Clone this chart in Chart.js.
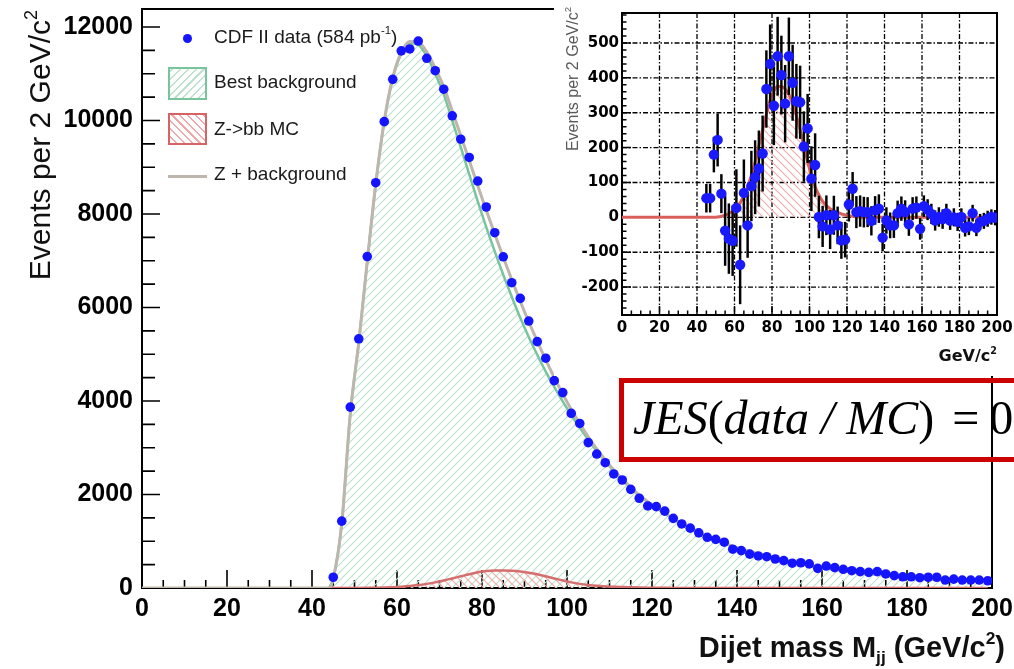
<!DOCTYPE html>
<html>
<head>
<meta charset="utf-8">
<script src="https://cdn.jsdelivr.net/npm/chart.js@4.4.1/dist/chart.umd.min.js"></script>
<style>
html,body{margin:0;padding:0;background:#fff;}
#wrap{position:relative;width:1014px;height:669px;overflow:hidden;font-family:'Liberation Sans',Arial,sans-serif;color:#111;}
canvas{position:absolute;display:block;}
#main{left:0;top:0;}
#inset{left:554px;top:0;background:#fff;}
.abs{position:absolute;white-space:nowrap;}
sup{font-size:60%;vertical-align:0.75em;line-height:0;}
sub{font-size:60%;vertical-align:-0.35em;line-height:0;}
.leg{font-size:19px;line-height:22px;color:#1a1a1a;left:214px;}
#jes{left:619px;top:378px;width:420px;height:84px;border:5px solid #cc0000;box-sizing:border-box;}
#jestext{left:633px;top:394px;font-family:'Liberation Serif','Times New Roman',serif;font-size:48px;line-height:48px;color:#000;}
#jestext .eq{margin-left:18px;margin-right:10px;}
</style>
</head>
<body>
<div id="wrap">
  <canvas id="main" width="1014" height="669"></canvas>
  <canvas id="inset" width="460" height="376"></canvas>

  <!-- main axis titles -->
  <div class="abs" style="left:23px;top:292px;width:282px;height:34px;line-height:34px;text-align:right;font-size:30px;transform-origin:0 0;transform:rotate(-90deg);">Events per 2 GeV/c<sup>2</sup></div>
  <div class="abs" style="right:9px;top:630px;line-height:34px;font-size:29px;font-weight:bold;">Dijet mass M<sub>jj</sub> (GeV/c<sup>2</sup>)</div>

  <!-- legend -->
  <div class="abs" style="left:183px;top:34px;width:9px;height:9px;border-radius:50%;background:#1414ff;"></div>
  <div class="abs leg" style="top:26px;">CDF II data (584 pb<sup>-1</sup>)</div>
  <div class="abs" style="left:168px;top:67px;width:39px;height:33px;box-sizing:border-box;border:2px solid rgb(120,196,156);background:repeating-linear-gradient(-45deg,#fff 0 4px,rgb(190,226,206) 4px 5.5px);"></div>
  <div class="abs leg" style="top:71px;">Best background</div>
  <div class="abs" style="left:168px;top:113px;width:39px;height:32px;box-sizing:border-box;border:2px solid rgb(214,100,100);background:repeating-linear-gradient(45deg,#fff 0 4px,rgb(238,170,170) 4px 5.5px);"></div>
  <div class="abs leg" style="top:118px;">Z-&gt;bb MC</div>
  <div class="abs" style="left:168px;top:175px;width:39px;height:2.5px;background:rgb(190,182,172);"></div>
  <div class="abs leg" style="top:163px;">Z + background</div>

  <!-- inset titles -->
  <div class="abs" style="left:564px;top:167px;width:160px;height:18px;line-height:18px;text-align:right;font-size:16px;color:#5a5a5a;transform-origin:0 0;transform:rotate(-90deg);">Events per 2 GeV/c<sup>2</sup></div>
  <div class="abs" style="left:920px;top:346px;width:77px;line-height:20px;text-align:right;font-family:'DejaVu Sans',sans-serif;font-weight:bold;font-size:16px;">GeV/c<sup>2</sup></div>

  <!-- JES box -->
  <div class="abs" id="jes"></div>
  <div class="abs" id="jestext"><i>JES</i>(<i>data</i> <i>/</i> <i>MC</i>)<span class="eq">=</span>0</div>
</div>

<script>
// ---------------- data ----------------
const massBins = [45,47,49,51,53,55,57,59,61,63,65,67,69,71,73,75,77,79,81,83,85,87,89,91,93,95,97,99,101,103,105,107,109,111,113,115,117,119,121,123,125,127,129,131,133,135,137,139,141,143,145,147,149,151,153,155,157,159,161,163,165,167,169,171,173,175,177,179,181,183,185,187,189,191,193,195,197,199];

const dataEvents = [230,1430,3870,5330,7090,8670,9975,10880,11490,11530,11700,11330,11065,10670,10100,9600,9210,8705,8150,7600,7085,6530,6195,5710,5270,4915,4435,4180,3735,3520,3110,2865,2680,2440,2310,2110,1920,1755,1740,1645,1490,1370,1280,1180,1085,1040,980,830,800,725,685,670,620,585,530,540,515,420,470,435,400,370,350,335,350,300,265,240,240,220,230,230,170,190,170,170,170,155];

const curveMass = [0,44,45,47,49,51,53,55,57,59,61,63,65,67,69,71,73,75,77,79,81,83,85,87,89,91,93,95,97,99,101,103,105,107,109,111,113,115,117,119,121,123,125,127,129,131,133,135,137,139,141,143,145,147,149,151,153,155,157,159,161,163,165,167,169,171,173,175,177,179,181,183,185,187,189,191,193,195,197,199];

const bgCurve = [0,0,200,1380,3720,5250,6980,8640,9980,10900,11430,11650,11620,11380,11000,10560,10000,9430,8850,8270,7720,7200,6700,6230,5780,5370,4990,4630,4300,3990,3700,3430,3170,2930,2710,2500,2310,2140,1980,1840,1710,1595,1480,1375,1280,1190,1105,1030,960,895,835,780,728,680,635,593,554,518,485,454,425,398,372,348,326,305,286,268,251,235,220,207,194,182,171,161,152,143,135,127];

const zCurve = [0,0,0,0,0,1,3,6,11,18,28,42,62,88,120,160,205,250,295,335,362,375,375,368,352,325,292,250,205,160,120,88,64,46,34,25,19,14,10,7,5,3,2,1,0,0,0,0,0,0,0,0,0,0,0,0,0,0,0,0,0,0,0,0,0,0,0,0,0,0,0,0,0,0,0,0,0,0,0,0];

const totalCurve = [0,0,200,1380,3720,5251,6983,8646,9991,10918,11458,11692,11682,11468,11120,10720,10205,9680,9145,8605,8082,7575,7075,6598,6132,5695,5282,4880,4505,4150,3820,3518,3234,2976,2744,2525,2329,2154,1990,1847,1715,1598,1482,1376,1280,1190,1105,1030,960,895,835,780,728,680,635,593,554,518,485,454,425,398,372,348,326,305,286,268,251,235,220,207,194,182,171,161,152,143,135,127];

const insetResidual = [55,55,180,222,68,-38,-61,-67,27,-136,70,-23,90,115,140,183,368,440,320,462,408,326,462,386,333,330,203,255,111,150,1,-26,6,-35,6,-23,-66,-64,37,82,15,18,15,15,-10,20,25,-58,-9,-23,-23,12,25,15,-20,25,28,-33,32,22,10,-9,1,-5,12,-9,0,-13,1,-30,-26,12,-30,-13,-10,-4,1,-1];

const insetError = [40,40,50,75,55,100,100,100,110,112,95,92,100,105,108,108,110,112,112,112,112,110,110,108,106,104,100,98,92,90,60,58,56,55,55,53,52,50,48,47,45,44,43,42,41,40,40,38,37,36,35,35,34,33,32,32,31,30,30,29,28,28,27,27,26,26,25,25,24,24,24,23,23,22,22,22,21,21];

const mainXTicks = [0,20,40,60,80,100,120,140,160,180,200];
const mainYTicks = [0,2000,4000,6000,8000,10000,12000];
const insetXTicks = [0,20,40,60,80,100,120,140,160,180,200];
const insetYTicks = [-200,-100,0,100,200,300,400,500];

// ---------------- helpers ----------------
function hatch(color, dir, size, lw) {
  const c = document.createElement('canvas');
  c.width = size; c.height = size;
  const g = c.getContext('2d');
  g.strokeStyle = color; g.lineWidth = lw;
  g.beginPath();
  if (dir === '/') {
    g.moveTo(0, size); g.lineTo(size, 0);
    g.moveTo(-size/2, size/2); g.lineTo(size/2, -size/2);
    g.moveTo(size/2, size*1.5); g.lineTo(size*1.5, size/2);
  } else {
    g.moveTo(0, 0); g.lineTo(size, size);
    g.moveTo(-size/2, size/2); g.lineTo(size/2, size*1.5);
    g.moveTo(size/2, -size/2); g.lineTo(size*1.5, size/2);
  }
  g.stroke();
  return g.createPattern(c, 'repeat');
}
const pts = (xs, ys) => xs.map((x, i) => ({x: x, y: ys[i]}));
const fixTicks = list => (scale => { scale.ticks = list.map(v => ({value: v})); });
function fixedX(h) { return s => { s.height = h; s.paddingLeft = 0; s.paddingRight = 0; }; }
function fixedY(w) { return s => { s.width = w; s.paddingTop = 0; s.paddingBottom = 0; }; }

const greenHatch = hatch('rgb(190,226,206)', '/', 8, 1.2);
const redHatch = hatch('rgb(240,170,170)', '\\', 8, 1.2);
const redHatchInset = hatch('rgb(240,175,175)', '\\', 8, 1.2);

// ---------------- main chart ----------------
const mainFrame = {
  id: 'mainFrame',
  beforeDatasetsDraw(chart) {
    const {ctx, chartArea: a, scales: {x, y}} = chart;
    ctx.save();
    ctx.strokeStyle = '#000';
    ctx.lineWidth = 1.6;
    ctx.beginPath();
    for (let v = 0; v <= 200; v += 5) {
      const px = x.getPixelForValue(v);
      const len = v % 20 === 0 ? 18 : 8;
      ctx.moveTo(px, a.bottom); ctx.lineTo(px, a.bottom - len);
    }
    for (let v = 0; v <= 12300; v += 500) {
      const py = y.getPixelForValue(v);
      const len = v % 2000 === 0 ? 18 : 13;
      ctx.moveTo(a.left, py); ctx.lineTo(a.left + len, py);
    }
    ctx.stroke();
    ctx.lineWidth = 2;
    ctx.strokeRect(a.left, a.top, a.right - a.left, a.bottom - a.top);
    ctx.restore();
  }
};

const tickFontMain = {family: "'Liberation Sans', Arial, sans-serif", size: 25, weight: 'bold'};

new Chart(document.getElementById('main'), {
  type: 'line',
  data: {
    datasets: [
      {
        label: 'CDF II data (584 pb-1)',
        data: pts(massBins, dataEvents),
        showLine: false,
        pointRadius: 4.8,
        pointBackgroundColor: '#1414ff',
        pointBorderWidth: 0
      },
      {
        label: 'Z + background',
        data: pts(curveMass, totalCurve),
        borderColor: 'rgb(190,182,172)',
        borderWidth: 3,
        pointRadius: 0,
        fill: false,
        cubicInterpolationMode: 'monotone'
      },
      {
        label: 'Z->bb MC',
        data: pts(curveMass.slice(1), zCurve.slice(1)),
        borderColor: 'rgb(214,110,110)',
        borderWidth: 2.5,
        backgroundColor: redHatch,
        pointRadius: 0,
        fill: 'origin',
        cubicInterpolationMode: 'monotone'
      },
      {
        label: 'Best background',
        data: pts(curveMass.slice(1), bgCurve.slice(1)),
        borderColor: 'rgb(120,196,156)',
        borderWidth: 2.5,
        backgroundColor: greenHatch,
        pointRadius: 0,
        fill: 'origin',
        cubicInterpolationMode: 'monotone'
      }
    ]
  },
  options: {
    responsive: false,
    animation: false,
    devicePixelRatio: 1,
    layout: {padding: {left: 0, right: 22, top: 9, bottom: 0}},
    plugins: {legend: {display: false}, tooltip: {enabled: false}, title: {display: false}},
    scales: {
      x: {
        type: 'linear', min: 0, max: 200, offset: false,
        grid: {display: false, drawTicks: false},
        border: {display: false},
        ticks: {padding: 6, color: '#000', font: tickFontMain, maxRotation: 0, autoSkip: false,
                callback: v => String(v)},
        afterBuildTicks: fixTicks(mainXTicks),
        afterFit: fixedX(81)
      },
      y: {
        type: 'linear', min: 0, max: 12385,
        grid: {display: false, drawTicks: false},
        border: {display: false},
        ticks: {padding: 9, color: '#000', font: tickFontMain, autoSkip: false,
                callback: v => String(v)},
        afterBuildTicks: fixTicks(mainYTicks),
        afterFit: fixedY(142)
      }
    }
  },
  plugins: [mainFrame]
});

// ---------------- inset chart ----------------
const insetFrame = {
  id: 'insetFrame',
  beforeDatasetsDraw(chart) {
    const {ctx, chartArea: a, scales: {x, y}} = chart;
    ctx.save();
    ctx.strokeStyle = '#000';
    ctx.lineWidth = 1.3;
    ctx.setLineDash([5, 2, 1.5, 2]);
    ctx.beginPath();
    for (let v = 20; v < 200; v += 20) {
      const px = x.getPixelForValue(v);
      ctx.moveTo(px, a.top); ctx.lineTo(px, a.bottom);
    }
    for (let v = -200; v <= 500; v += 100) {
      const py = y.getPixelForValue(v);
      ctx.moveTo(a.left, py); ctx.lineTo(a.right, py);
    }
    ctx.stroke();
    ctx.setLineDash([]);
    ctx.lineWidth = 1.5;
    ctx.beginPath();
    for (let v = 0; v <= 200; v += 5) {
      const px = x.getPixelForValue(v);
      const len = v % 20 === 0 ? 9 : 4.5;
      ctx.moveTo(px, a.bottom); ctx.lineTo(px, a.bottom - len);
    }
    for (let v = -280; v <= 580; v += 20) {
      const py = y.getPixelForValue(v);
      const len = v % 100 === 0 ? 9 : 4.5;
      ctx.moveTo(a.left, py); ctx.lineTo(a.left + len, py);
    }
    ctx.stroke();
    ctx.lineWidth = 2;
    ctx.strokeRect(a.left, a.top, a.right - a.left, a.bottom - a.top);
    ctx.restore();
  }
};

const tickFontInset = {family: "'DejaVu Sans', sans-serif", size: 15, weight: 'bold'};

new Chart(document.getElementById('inset'), {
  type: 'line',
  data: {
    datasets: [
      {
        type: 'line',
        label: 'data - background',
        data: pts(massBins, insetResidual),
        showLine: false,
        pointRadius: 5.2,
        pointBackgroundColor: '#1a1aff',
        pointBorderWidth: 0
      },
      {
        type: 'bar',
        label: 'errors',
        data: massBins.map((m, i) => ({x: m, y: [insetResidual[i] - insetError[i], insetResidual[i] + insetError[i]]})),
        backgroundColor: '#000',
        borderWidth: 0,
        barThickness: 1.8,
        grouped: false
      },
      {
        type: 'line',
        label: 'Z->bb MC',
        data: pts(curveMass, zCurve),
        borderColor: 'rgb(217,96,90)',
        borderWidth: 3,
        backgroundColor: redHatchInset,
        pointRadius: 0,
        fill: 'origin',
        cubicInterpolationMode: 'monotone'
      }
    ]
  },
  options: {
    responsive: false,
    animation: false,
    devicePixelRatio: 1,
    layout: {padding: {left: 0, right: 17, top: 13, bottom: 0}},
    plugins: {legend: {display: false}, tooltip: {enabled: false}},
    scales: {
      x: {
        type: 'linear', min: 0, max: 200, offset: false,
        grid: {display: false, drawTicks: false},
        border: {display: false},
        ticks: {padding: 4, color: '#000', font: tickFontInset, maxRotation: 0, autoSkip: false,
                callback: v => String(v)},
        afterBuildTicks: fixTicks(insetXTicks),
        afterFit: fixedX(61)
      },
      y: {
        type: 'linear', min: -280, max: 586,
        grid: {display: false, drawTicks: false},
        border: {display: false},
        ticks: {padding: 3, color: '#000', font: tickFontInset, autoSkip: false,
                callback: v => String(v)},
        afterBuildTicks: fixTicks(insetYTicks),
        afterFit: fixedY(68)
      }
    }
  },
  plugins: [insetFrame]
});
</script>
</body>
</html>
